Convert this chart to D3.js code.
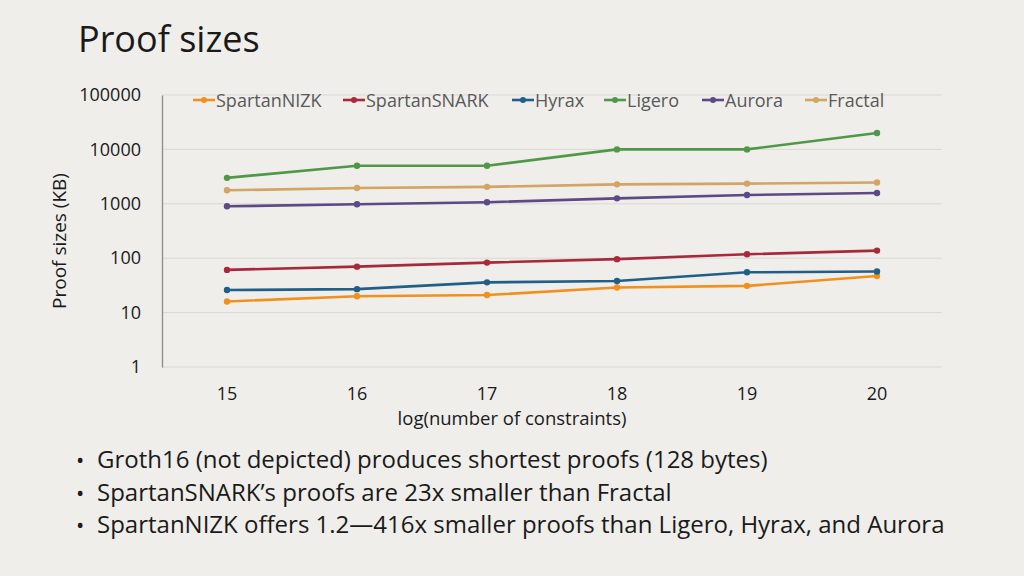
<!DOCTYPE html>
<html><head><meta charset="utf-8">
<script src="https://cdn.jsdelivr.net/npm/d3@7"></script>
<style>
html,body{margin:0;padding:0;background:#efeeea;}
svg{display:block;font-family:"Open Sans", sans-serif;}
</style></head>
<body>
<svg id="c" width="1024" height="576"></svg>
<script>
const categories = ["15","16","17","18","19","20"];
const seriesNames = ["SpartanNIZK","SpartanSNARK","Hyrax","Ligero","Aurora","Fractal"];
const spartanNIZK = [16, 20, 21, 29, 31, 47];
const spartanSNARK = [61, 70, 83, 96, 118, 138];
const hyrax = [26, 27, 36, 38, 55, 57];
const ligero = [3000, 5000, 5000, 10000, 10000, 20000];
const aurora = [900, 980, 1070, 1260, 1450, 1580];
const fractal = [1770, 1950, 2050, 2280, 2350, 2470];
const yTicks = [1, 10, 100, 1000, 10000, 100000];
const colors = ["#f0901e", "#a8283c", "#215f88", "#4f9847", "#5c4a86", "#d3a464"];
const bullets = [
  "Groth16 (not depicted) produces shortest proofs (128 bytes)",
  "SpartanSNARK\u2019s proofs are 23x smaller than Fractal",
  "SpartanNIZK offers 1.2\u2014416x smaller proofs than Ligero, Hyrax, and Aurora"
];
const seriesData = [spartanNIZK, spartanSNARK, hyrax, ligero, aurora, fractal];

const svg = d3.select("#c");
const L = 162, R = 942, T = 95, B = 367;
const x = d3.scaleBand().domain(categories).range([L, R]);
const y = d3.scaleLog().domain([1, 100000]).range([B, T]);

svg.append("text").attr("x", 78).attr("y", 52).attr("font-size", 36).attr("fill", "#1a1a1a")
  .text("Proof sizes");

// gridlines
svg.append("g").selectAll("line").data(yTicks).join("line")
  .attr("x1", L).attr("x2", R).attr("y1", d => y(d)).attr("y2", d => y(d))
  .attr("stroke", "#d9d8d4").attr("stroke-width", 1);

// y axis
const yAxis = d3.axisLeft(y).tickValues(yTicks).tickFormat(d3.format("d")).tickSize(0).tickPadding(21);
const gy = svg.append("g").attr("transform", `translate(${L},0)`).call(yAxis);
gy.select(".domain").attr("stroke", "#8c8c8c").attr("stroke-width", 1.3);
gy.selectAll("text").attr("font-size", 18).attr("fill", "#1a1a1a").attr("font-family", "'Open Sans', sans-serif");

// x axis
const xAxis = d3.axisBottom(x).tickSize(0).tickPadding(20);
const gx = svg.append("g").attr("transform", `translate(0,${B})`).call(xAxis);
gx.select(".domain").remove();
gx.selectAll("text").attr("font-size", 18).attr("fill", "#1a1a1a").attr("font-family", "'Open Sans', sans-serif");

svg.append("text").attr("x", 512).attr("y", 425).attr("text-anchor", "middle")
  .attr("font-size", 18.5).attr("fill", "#1a1a1a")
  .text("log(number of constraints)");
svg.append("text").attr("transform", "translate(66,241) rotate(-90)").attr("text-anchor", "middle")
  .attr("font-size", 19).attr("fill", "#1a1a1a")
  .text("Proof sizes (KB)");

// lines
const line = d3.line().x((d, i) => x(categories[i]) + x.bandwidth() / 2).y(d => y(d));
seriesData.forEach((vals, s) => {
  const g = svg.append("g");
  g.append("path").datum(vals).attr("d", line).attr("fill", "none")
    .attr("stroke", colors[s]).attr("stroke-width", 2.6);
  g.selectAll("circle").data(vals).join("circle")
    .attr("cx", (d, i) => x(categories[i]) + x.bandwidth() / 2).attr("cy", d => y(d))
    .attr("r", 3.2).attr("fill", colors[s]);
});

// legend
const legX = [193, 343, 512, 604, 702, 805];
const leg = svg.append("g");
seriesNames.forEach((n, i) => {
  const g = leg.append("g").attr("transform", `translate(${legX[i]},100)`);
  g.append("line").attr("x1", 0).attr("x2", 22).attr("stroke", colors[i]).attr("stroke-width", 2.6);
  g.append("circle").attr("cx", 11).attr("r", 3).attr("fill", colors[i]);
  g.append("text").attr("x", 23).attr("y", 6.5).attr("font-size", 18).attr("fill", "#595959")
    .text(n);
});

// bullets
bullets.forEach((b, i) => {
  const yy = 468 + i * 32.5;
  svg.append("text").attr("x", 76).attr("y", yy).attr("font-size", 22).attr("fill", "#1a1a1a").text("\u2022");
  svg.append("text").attr("x", 97).attr("y", yy).attr("font-size", 24).attr("fill", "#1a1a1a")
    .text(b);
});
</script>
</body></html>
